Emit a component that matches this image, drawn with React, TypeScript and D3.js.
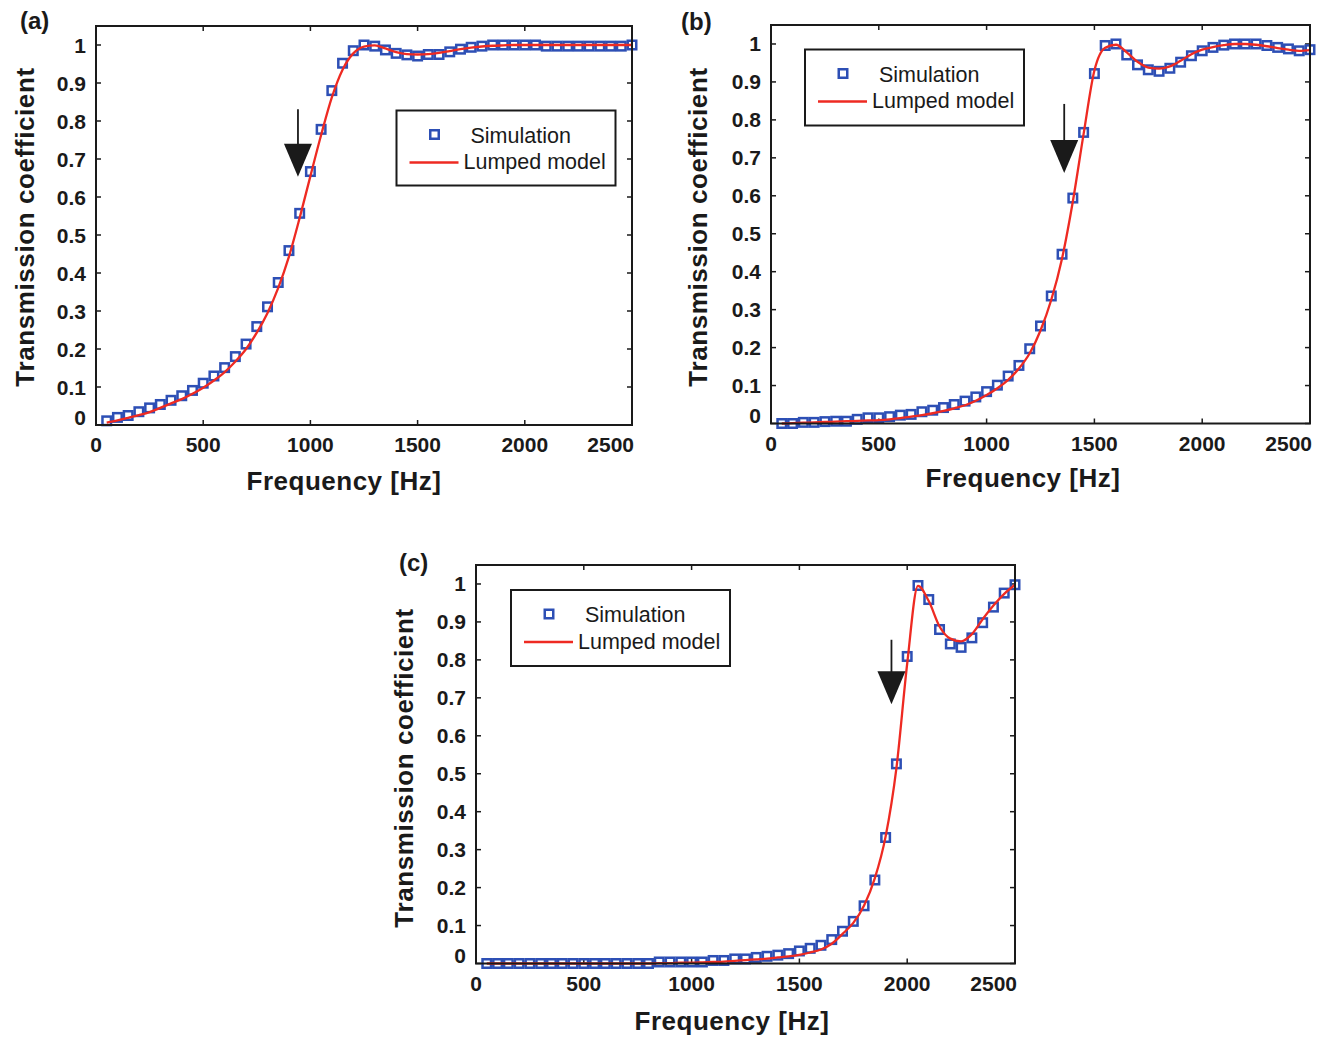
import React from "react";
import * as d3 from "d3";

// ---------- DATA ----------
const FREQ = [
  50, 100, 150, 200, 250, 300, 350, 400, 450, 500,
  550, 600, 650, 700, 750, 800, 850, 900, 950, 1000,
  1050, 1100, 1150, 1200, 1250, 1300, 1350, 1400, 1450, 1500,
  1550, 1600, 1650, 1700, 1750, 1800, 1850, 1900, 1950, 2000,
  2050, 2100, 2150, 2200, 2250, 2300, 2350, 2400, 2450, 2500,
];

const SIM_A = [
  0.011, 0.020, 0.025, 0.035, 0.045, 0.054, 0.065, 0.077, 0.091, 0.110,
  0.129, 0.151, 0.180, 0.213, 0.259, 0.311, 0.375, 0.459, 0.557, 0.667,
  0.778, 0.880, 0.952, 0.985, 1.000, 0.997, 0.987, 0.978, 0.974, 0.971,
  0.975, 0.975, 0.982, 0.989, 0.994, 0.997, 1.000, 1.000, 1.000, 1.000,
  1.000, 0.997, 0.997, 0.997, 0.997, 0.997, 0.997, 0.997, 0.997, 1.000,
];
const MODEL_A = [
  0.006, 0.012, 0.019, 0.026, 0.034, 0.045, 0.057, 0.068, 0.082, 0.098,
  0.117, 0.139, 0.167, 0.200, 0.243, 0.295, 0.361, 0.443, 0.545, 0.655,
  0.763, 0.862, 0.935, 0.978, 0.996, 0.999, 0.991, 0.981, 0.976, 0.975,
  0.976, 0.979, 0.984, 0.989, 0.993, 0.996, 0.998, 0.999, 1.000, 1.000,
  1.000, 1.000, 1.000, 1.000, 1.000, 1.000, 1.000, 1.000, 1.000, 1.000,
];

const SIM_B = [
  0.000, 0.000, 0.003, 0.003, 0.005, 0.006, 0.006, 0.011, 0.015, 0.015,
  0.018, 0.022, 0.024, 0.031, 0.035, 0.042, 0.050, 0.059, 0.070, 0.084,
  0.101, 0.125, 0.153, 0.197, 0.257, 0.336, 0.446, 0.594, 0.767, 0.922,
  0.996, 1.000, 0.971, 0.945, 0.932, 0.928, 0.936, 0.952, 0.969, 0.982,
  0.991, 0.997, 1.000, 1.000, 1.000, 0.996, 0.991, 0.987, 0.982, 0.985,
];
const MODEL_B = [
  0.000, 0.001, 0.002, 0.003, 0.004, 0.005, 0.006, 0.007, 0.008, 0.009,
  0.011, 0.014, 0.018, 0.022, 0.027, 0.033, 0.040, 0.048, 0.060, 0.075,
  0.093, 0.115, 0.145, 0.185, 0.245, 0.326, 0.435, 0.585, 0.763, 0.930,
  0.990, 0.998, 0.978, 0.953, 0.938, 0.935, 0.941, 0.956, 0.973, 0.985,
  0.992, 0.997, 1.000, 1.000, 0.998, 0.994, 0.989, 0.985, 0.982, 0.984,
];

const SIM_C = [
  0.000, 0.000, 0.000, 0.000, 0.000, 0.000, 0.000, 0.000, 0.000, 0.000,
  0.000, 0.000, 0.000, 0.000, 0.000, 0.000, 0.004, 0.004, 0.004, 0.004,
  0.004, 0.008, 0.008, 0.012, 0.012, 0.016, 0.019, 0.022, 0.026, 0.033,
  0.040, 0.048, 0.063, 0.085, 0.111, 0.152, 0.220, 0.332, 0.526, 0.809,
  0.996, 0.959, 0.880, 0.842, 0.833, 0.858, 0.898, 0.939, 0.976, 0.998,
];
const MODEL_C = [
  0.000, 0.000, 0.000, 0.000, 0.000, 0.000, 0.000, 0.000, 0.000, 0.000,
  0.000, 0.000, 0.000, 0.000, 0.000, 0.000, 0.001, 0.001, 0.002, 0.002,
  0.003, 0.004, 0.005, 0.007, 0.009, 0.011, 0.013, 0.016, 0.019, 0.023,
  0.029, 0.037, 0.052, 0.078, 0.107, 0.153, 0.225, 0.335, 0.515, 0.790,
  0.995, 0.955, 0.888, 0.856, 0.849, 0.868, 0.907, 0.943, 0.974, 0.998,
];

// arrow: frequency, value at shaft top, value at tip
const ARROW_A = [942, 0.831, 0.653];
const ARROW_B = [1360, 0.842, 0.66];
const ARROW_C = [1927, 0.853, 0.683];

const X_TICKS = [0, 500, 1000, 1500, 2000, 2500];
const Y_TICKS = [0, 0.1, 0.2, 0.3, 0.4, 0.5, 0.6, 0.7, 0.8, 0.9, 1];
const X_DOMAIN = [0, 2500];
const Y_DOMAIN = [0, 1.05];

const LEGEND_LABELS = ["Simulation", "Lumped model"];
const X_TITLE = "Frequency [Hz]";
const Y_TITLE = "Transmission coefficient";

// ---------- LAYOUT ----------
const PANELS = [
  {
    tag: "(a)", sim: SIM_A, model: MODEL_A, arrow: ARROW_A,
    left: 96, right: 632, top: 26, bottom: 425,
    tagX: 20, tagY: 29, yTitleX: 34, yTitleY: 227, xTitleX: 344, xTitleY: 490,
    legend: { x: 396.5, y: 110.5, w: 219, h: 75 },
  },
  {
    tag: "(b)", sim: SIM_B, model: MODEL_B, arrow: ARROW_B,
    left: 771, right: 1310, top: 25, bottom: 423.5,
    tagX: 681, tagY: 30, yTitleX: 707, yTitleY: 227, xTitleX: 1023, xTitleY: 487,
    legend: { x: 805, y: 49.5, w: 219, h: 76 },
  },
  {
    tag: "(c)", sim: SIM_C, model: MODEL_C, arrow: ARROW_C,
    left: 476, right: 1015, top: 565, bottom: 963.5,
    tagX: 399, tagY: 571, yTitleX: 413, yTitleY: 768, xTitleX: 732, xTitleY: 1030,
    legend: { x: 511, y: 590, w: 219, h: 76 },
  },
];

const BLUE = "#2d4fb5";
const RED = "#ee2a22";
const INK = "#1a1a1a";
const FONT = "'Liberation Sans', Arial, Helvetica, sans-serif";
const MS = 8.5; // marker inner size

function Panel({ p }: { p: any }) {
  const x = d3.scaleLinear().domain(X_DOMAIN).range([p.left, p.right]);
  const y = d3.scaleLinear().domain(Y_DOMAIN).range([p.bottom, p.top]);
  const line = d3
    .line<number>()
    .x((_, i) => x(FREQ[i]))
    .y((d) => y(d))
    .curve(d3.curveMonotoneX);
  const tl = 5;
  const [af, aTop, aTip] = p.arrow;
  const ax = x(af);
  const ayTop = y(aTop);
  const ayTip = y(aTip);
  const headLen = 33;
  const headW = 14;
  const lg = p.legend;
  return (
    <g>
      {/* inward ticks */}
      {X_TICKS.map((t) => (
        <g key={"xt" + t}>
          <line x1={x(t)} x2={x(t)} y1={p.bottom} y2={p.bottom - tl} stroke={INK} strokeWidth={1.5} />
          <line x1={x(t)} x2={x(t)} y1={p.top} y2={p.top + tl} stroke={INK} strokeWidth={1.5} />
        </g>
      ))}
      {Y_TICKS.map((t) => (
        <g key={"yt" + t}>
          <line x1={p.left} x2={p.left + tl} y1={y(t)} y2={y(t)} stroke={INK} strokeWidth={1.5} />
          <line x1={p.right} x2={p.right - tl} y1={y(t)} y2={y(t)} stroke={INK} strokeWidth={1.5} />
        </g>
      ))}
      {/* markers */}
      {p.sim.map((v: number, i: number) => (
        <rect
          key={"m" + i}
          x={x(FREQ[i]) - MS / 2}
          y={y(v) - MS / 2}
          width={MS}
          height={MS}
          fill="none"
          stroke={BLUE}
          strokeWidth={2.5}
        />
      ))}
      {/* model line */}
      <path d={line(p.model) || ""} fill="none" stroke={RED} strokeWidth={2.3} />
      {/* frame */}
      <rect
        x={p.left}
        y={p.top}
        width={p.right - p.left}
        height={p.bottom - p.top}
        fill="none"
        stroke={INK}
        strokeWidth={2}
      />
      {/* arrow */}
      <line x1={ax} x2={ax} y1={ayTop} y2={ayTip - headLen + 4} stroke={INK} strokeWidth={1.8} />
      <path
        d={`M${ax - headW},${ayTip - headLen} L${ax + headW},${ayTip - headLen} L${ax},${ayTip} Z`}
        fill={INK}
      />
      {/* tick labels */}
      {X_TICKS.map((t, i) => (
        <text
          key={"xl" + t}
          x={i === X_TICKS.length - 1 ? x(t) + 2 : x(t)}
          y={p.bottom + 27}
          textAnchor={i === X_TICKS.length - 1 ? "end" : "middle"}
          fontFamily={FONT}
          fontWeight="bold"
          fontSize={21}
          fill={INK}
        >
          {t}
        </text>
      ))}
      {Y_TICKS.map((t) => (
        <text
          key={"yl" + t}
          x={p.left - 10}
          y={y(t) + 7.5 - (t === 0 ? 8 : 0)}
          textAnchor="end"
          fontFamily={FONT}
          fontWeight="bold"
          fontSize={21}
          fill={INK}
        >
          {d3.format("~g")(t)}
        </text>
      ))}
      {/* titles */}
      <text
        x={p.xTitleX}
        y={p.xTitleY}
        textAnchor="middle"
        fontFamily={FONT}
        fontWeight="bold"
        fontSize={26}
        letterSpacing={0.5}
        fill={INK}
      >
        {X_TITLE}
      </text>
      <text
        transform={`translate(${p.yTitleX},${p.yTitleY}) rotate(-90)`}
        textAnchor="middle"
        fontFamily={FONT}
        fontWeight="bold"
        fontSize={26}
        letterSpacing={0.6}
        fill={INK}
      >
        {Y_TITLE}
      </text>
      <text x={p.tagX} y={p.tagY} fontFamily={FONT} fontWeight="bold" fontSize={24} fill={INK}>
        {p.tag}
      </text>
      {/* legend */}
      <rect x={lg.x} y={lg.y} width={lg.w} height={lg.h} fill="#fff" stroke={INK} strokeWidth={2} />
      <rect x={lg.x + 38 - MS / 2} y={lg.y + 24 - MS / 2} width={MS} height={MS} fill="none" stroke={BLUE} strokeWidth={2.5} />
      <text x={lg.x + 74} y={lg.y + 32} fontFamily={FONT} fontSize={21.5} fill={INK}>
        {LEGEND_LABELS[0]}
      </text>
      <line x1={lg.x + 13} x2={lg.x + 62} y1={lg.y + 52} y2={lg.y + 52} stroke={RED} strokeWidth={2.3} />
      <text x={lg.x + 67} y={lg.y + 58.5} fontFamily={FONT} fontSize={21.5} fill={INK}>
        {LEGEND_LABELS[1]}
      </text>
    </g>
  );
}

export default function App() {
  return (
    <svg
      width={1322}
      height={1037}
      viewBox="0 0 1322 1037"
      style={{ position: "absolute", left: 0, top: 0, background: "#fff" }}
    >
      <rect x={0} y={0} width={1322} height={1037} fill="#fff" />
      {PANELS.map((p) => (
        <Panel key={p.tag} p={p} />
      ))}
    </svg>
  );
}
